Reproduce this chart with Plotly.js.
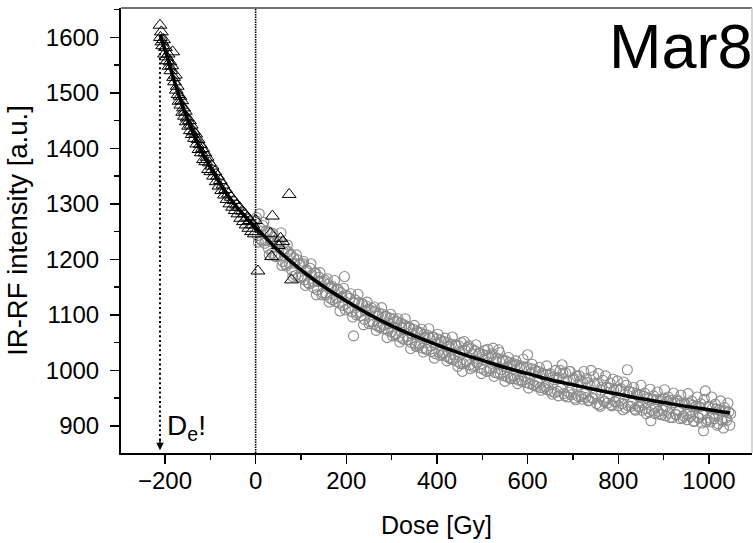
<!DOCTYPE html>
<html>
<head>
<meta charset="utf-8">
<script src="https://cdn.plot.ly/plotly-3.0.1.min.js"></script>
<style>html,body{margin:0;padding:0;background:#fff;}#chart{width:753px;height:543px;}</style>
</head>
<body>
<div id="chart"></div>
<script>
// Regenerated-dose points (triangles), dose in Gy, signal in a.u.
const triDose = [-211,-210,-208,-207,-205,-203,-201,-199,-197,-195,-193,-191,-189,-187,-185,-183,-181,-179,-177,-175,-173,-171,-169,-167,-165,-163,-161,-159,-157,-155,-153,-151,-148,-146,-144,-142,-140,-137,-135,-132,-130,-127,-125,-122,-120,-117,-115,-112,-110,-107,-104,-102,-99,-96,-93,-90,-87,-84,-81,-78,-75,-72,-69,-66,-63,-60,-57,-54,-51,-48,-45,-42,-39,-36,-33,-30,-27,-24,-21,-18,-15,-12,-9,-6,-3,0,5,33,35,37,50,55,60,74,79];
const triSignal = [1622,1600,1610,1592,1585,1596,1570,1582,1565,1558,1570,1548,1556,1540,1549,1574,1528,1520,1532,1505,1512,1497,1485,1494,1478,1486,1465,1473,1458,1467,1448,1455,1440,1450,1432,1442,1425,1430,1418,1426,1408,1416,1398,1407,1392,1400,1380,1392,1376,1384,1362,1374,1358,1368,1350,1358,1340,1350,1332,1342,1324,1334,1316,1326,1308,1318,1300,1312,1294,1306,1288,1298,1282,1294,1274,1287,1268,1282,1262,1276,1256,1270,1250,1262,1246,1270,1179,1247,1205,1278,1225,1238,1232,1317,1163];

// Additive-dose points (circles), first set
const circDose = [0,4,8,12,16,20,24,28,32,36,40,44,48,52,56,60,64,68,72,76,80,84,88,92,96,100,104,108,112,116,120,124,128,132,136,140,144,148,152,156,160,164,168,172,176,180,184,188,192,196,200,204,208,212,216,220,224,228,232,236,240,244,248,252,256,260,264,268,272,276,280,284,288,292,296,300,304,308,312,316,320,324,328,332,336,340,344,348,352,356,360,364,368,372,376,380,384,388,392,396,400,404,408,412,416,420,424,428,432,436,440,444,448,452,456,460,464,468,472,476,480,484,488,492,496,500,504,508,512,516,520,524,528,532,536,540,544,548,552,556,560,564,568,572,576,580,584,588,592,596,600,604,608,612,616,620,624,628,632,636,640,644,648,652,656,660,664,668,672,676,680,684,688,692,696,700,704,708,712,716,720,724,728,732,736,740,744,748,752,756,760,764,768,772,776,780,784,788,792,796,800,804,808,812,816,820,824,828,832,836,840,844,848,852,856,860,864,868,872,876,880,884,888,892,896,900,904,908,912,916,920,924,928,932,936,940,944,948,952,956,960,964,968,972,976,980,984,988,992,996,1000,1004,1008,1012,1016,1020,1024,1028,1032,1036,1040,1044,1048];
const circSignal = [1270,1243,1282,1236,1261,1229,1252,1220,1248,1211,1240,1205,1232,1224,1248,1196,1219,1188,1214,1207,1180,1203,1171,1199,1190,1167,1192,1163,1181,1158,1184,1172,1149,1176,1145,1168,1160,1139,1163,1136,1155,1130,1152,1148,1124,1146,1121,1140,1117,1169,1135,1112,1130,1106,1062,1127,1103,1122,1098,1119,1092,1116,1110,1088,1112,1083,1106,1080,1103,1079,1101,1075,1097,1072,1094,1069,1093,1064,1088,1061,1085,1058,1082,1079,1055,1077,1050,1074,1047,1071,1044,1068,1040,1065,1038,1063,1058,1034,1060,1030,1057,1033,1055,1028,1052,1025,1050,1021,1047,1019,1046,1016,1044,1012,998,1052,1015,1041,1010,1039,1006,1035,1013,1030,1004,1029,1001,1027,1038,999,1026,1040,996,1022,1037,993,1019,990,1017,988,1014,986,1012,985,1010,982,1008,980,1006,978,1028,976,1003,974,1001,971,998,969,995,968,993,965,991,962,988,960,986,954,1000,1010,958,995,952,998,956,983,950,990,953,981,948,998,951,978,946,1000,949,976,940,994,935,970,944,990,941,968,938,984,944,966,936,964,940,979,932,1001,962,935,960,930,958,934,956,928,953,931,951,925,909,948,922,947,926,945,920,950,918,944,923,946,915,942,920,944,913,941,918,938,911,940,917,937,908,936,915,934,905,891,963,911,933,907,932,913,930,904,929,911,896,927,910,925,922];

// Additive-dose points (circles), second set
const circDose2 = [2,6,10,14,18,22,26,30,34,38,42,46,50,54,58,62,66,70,74,78,82,86,90,94,98,102,106,110,114,118,122,126,130,134,138,142,146,150,154,158,162,166,170,174,178,182,186,190,194,198,202,206,210,214,218,222,226,230,234,238,242,246,250,254,258,262,266,270,274,278,282,286,290,294,298,302,306,310,314,318,322,326,330,334,338,342,346,350,354,358,362,366,370,374,378,382,386,390,394,398,402,406,410,414,418,422,426,430,434,438,442,446,450,454,458,462,466,470,474,478,482,486,490,494,498,502,506,510,514,518,522,526,530,534,538,542,546,550,554,558,562,566,570,574,578,582,586,590,594,598,602,606,610,614,618,622,626,630,634,638,642,646,650,654,658,662,666,670,674,678,682,686,690,694,698,702,706,710,714,718,722,726,730,734,738,742,746,750,754,758,762,766,770,774,778,782,786,790,794,798,802,806,810,814,818,822,826,830,834,838,842,846,850,854,858,862,866,870,874,878,882,886,890,894,898,902,906,910,914,918,922,926,930,934,938,942,946,950,954,958,962,966,970,974,978,982,986,990,994,998,1002,1006,1010,1014,1018,1022,1026,1030,1034,1038,1042,1046];
const circSignal2 = [1275,1231,1256,1233,1267,1234,1249,1208,1232,1247,1206,1229,1207,
  1232,1189,1214,1191,1226,1193,1209,1169,1193,1208,1168,1192,1170,
  1196,1153,1179,1156,1192,1159,1175,1136,1160,1176,1136,1160,1139,
  1165,1123,1149,1127,1162,1130,1146,1107,1132,1148,1109,1133,1112,
  1138,1096,1122,1100,1137,1105,1121,1082,1107,1123,1084,1108,1088,
  1114,1072,1098,1077,1113,1081,1098,1059,1084,1101,1062,1087,1066,
  1093,1051,1078,1056,1093,1061,1078,1039,1065,1081,1043,1068,1048,
  1074,1033,1060,1038,1075,1044,1060,1022,1048,1065,1027,1051,1031,
  1058,1017,1044,1023,1060,1028,1045,1007,1033,1050,1012,1037,1017,
  1044,1003,1030,1009,1046,1015,1032,994,1019,1036,998,1023,1003,
  1030,989,1016,995,1032,1001,1018,980,1006,1023,985,1010,990,
  1017,976,1004,983,1020,989,1006,968,994,1011,973,998,978,
  1005,964,992,971,1008,977,994,957,983,1000,962,987,968,
  995,954,981,961,998,968,985,947,973,990,953,978,958,
  985,945,972,951,989,958,976,938,964,982,944,969,950,
  977,936,964,943,981,950,967,929,956,973,936,961,941,
  969,928,955,935,973,942,959,922,948,966,928,954,934,
  961,921,948,928,965,935,952,915,941,959,921,947,927,
  955,914,941,921,958,928,945,908,934,952,914,940,920,
  948,907,935,914,952,921,939,901,928,945,908,933,914,941,901];

// Fitted curve
const fitDose = [-211,-200,-175,-150,-125,-100,-75,-50,-25,0,50,100,150,200,250,300,350,400,450,500,550,600,650,700,750,800,850,900,950,1000,1046];
const fitSignal = [1605,1578,1510,1452,1404,1366,1332,1303,1279,1258,1216,1181,1151,1125,1101,1080,1062,1046,1031,1018,1005,994,983,974,965,957,949,942,935,929,923];

// Equivalent dose marker
const deDose = -211;
const deTop = 1580;
const deBottom = 860;

const FONT = 'Arial, "Liberation Sans", Helvetica, sans-serif';

const circMarker = {symbol: 'circle-open', size: 10, color: '#8a8a8a', line: {width: 1.1, color: '#8a8a8a'}};

const traces = [
  {x: circDose, y: circSignal, type: 'scatter', mode: 'markers', marker: circMarker, hoverinfo: 'skip', showlegend: false},
  {x: circDose2, y: circSignal2, type: 'scatter', mode: 'markers', marker: circMarker, hoverinfo: 'skip', showlegend: false},
  {x: triDose, y: triSignal, type: 'scatter', mode: 'markers',
   marker: {symbol: 'triangle-up-open', size: 12, color: '#000', line: {width: 1, color: '#000'}},
   hoverinfo: 'skip', showlegend: false},
  {x: fitDose, y: fitSignal, type: 'scatter', mode: 'lines',
   line: {color: '#000', width: 3.5, shape: 'spline', smoothing: 1},
   hoverinfo: 'skip', showlegend: false}
];

const layout = {
  width: 753, height: 543,
  margin: {l: 121, r: 1, t: 8, b: 90},
  paper_bgcolor: '#fff', plot_bgcolor: '#fff',
  font: {family: FONT, color: '#000'},
  xaxis: {
    range: [-297, 1095], tickmode: 'linear', tick0: 0, dtick: 200,
    ticks: 'outside', ticklen: 9, tickwidth: 1.5, tickcolor: '#000',
    minor: {dtick: 100, ticks: 'outside', ticklen: 5, tickwidth: 1.5, tickcolor: '#000', showgrid: false},
    showline: true, linecolor: '#000', linewidth: 2, showgrid: false, zeroline: false,
    tickfont: {size: 24, family: FONT, color: '#000'},
    ticklabelstandoff: -4,
    title: {text: 'Dose [Gy]', font: {size: 25, family: FONT, color: '#000'}, standoff: 24},
    automargin: false
  },
  yaxis: {
    range: [851, 1653], tickmode: 'linear', tick0: 900, dtick: 100,
    ticks: 'outside', ticklen: 9, tickwidth: 1.5, tickcolor: '#000',
    minor: {dtick: 50, ticks: 'outside', ticklen: 5, tickwidth: 1.5, tickcolor: '#000', showgrid: false},
    showline: true, linecolor: '#000', linewidth: 2, showgrid: false, zeroline: false,
    tickfont: {size: 24, family: FONT, color: '#000'},
    ticklabelstandoff: 6,
    title: {text: 'IR-RF intensity [a.u.]', font: {size: 27.5, family: FONT, color: '#000'}, standoff: 10},
    automargin: false
  },
  shapes: [
    {type: 'line', xref: 'paper', yref: 'paper', x0: 0, x1: 1, y0: 1, y1: 1, line: {color: '#444', width: 1.5}},
    {type: 'line', xref: 'paper', yref: 'paper', x0: 1, x1: 1, y0: 0, y1: 1, line: {color: '#c8c8c8', width: 1.5}},
    {type: 'line', xref: 'x', yref: 'paper', x0: 0, x1: 0, y0: 0, y1: 1, line: {color: '#000', width: 1.6, dash: '1.5px,1px'}},
    {type: 'line', xref: 'x', yref: 'y', x0: deDose, x1: deDose, y0: deTop, y1: deBottom, line: {color: '#000', width: 2, dash: '2px,2.7px'}}
  ],
  annotations: [
    {x: deDose, y: 856, xref: 'x', yref: 'y', ax: 0, ay: -12, text: '', showarrow: true,
     arrowhead: 2, arrowsize: 1, arrowwidth: 1.5, arrowcolor: '#000'},
    {x: -199, y: 897, xref: 'x', yref: 'y', xanchor: 'left', yanchor: 'middle', showarrow: false,
     text: 'D<sub>e</sub>!', font: {size: 28, family: FONT, color: '#000'}},
    {x: 0.77, y: 0.915, xref: 'paper', yref: 'paper', xanchor: 'left', yanchor: 'middle', showarrow: false,
     text: 'Mar8', font: {size: 63, family: FONT, color: '#000'}}
  ]
};

Plotly.newPlot('chart', traces, layout, {staticPlot: true, displayModeBar: false});
</script>
</body>
</html>
